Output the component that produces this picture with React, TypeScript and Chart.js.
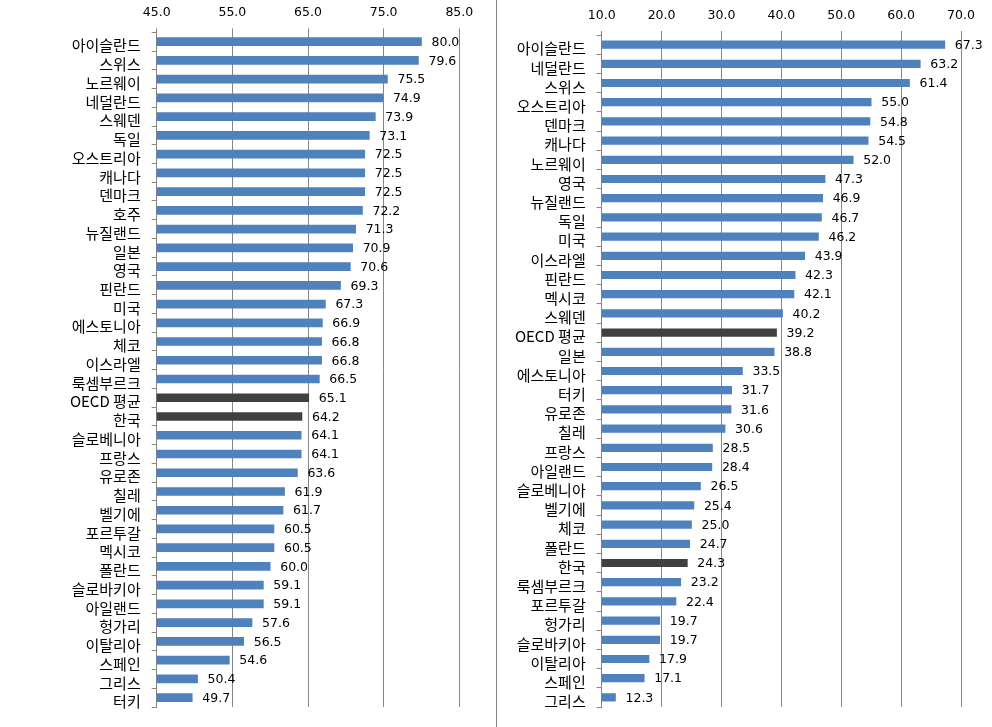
import React, { useEffect, useRef } from "react";
import { Chart, registerables } from "chart.js";

Chart.register(...registerables);

const leftCategories = [
  "아이슬란드", "스위스", "노르웨이", "네덜란드", "스웨덴", "독일", "오스트리아", "캐나다", "덴마크", "호주",
  "뉴질랜드", "일본", "영국", "핀란드", "미국", "에스토니아", "체코", "이스라엘", "룩셈부르크", "OECD 평균",
  "한국", "슬로베니아", "프랑스", "유로존", "칠레", "벨기에", "포르투갈", "멕시코", "폴란드", "슬로바키아",
  "아일랜드", "헝가리", "이탈리아", "스페인", "그리스", "터키",
];
const leftValues = [
  80.0, 79.6, 75.5, 74.9, 73.9, 73.1, 72.5, 72.5, 72.5, 72.2,
  71.3, 70.9, 70.6, 69.3, 67.3, 66.9, 66.8, 66.8, 66.5, 65.1,
  64.2, 64.1, 64.1, 63.6, 61.9, 61.7, 60.5, 60.5, 60.0, 59.1,
  59.1, 57.6, 56.5, 54.6, 50.4, 49.7,
];
const leftHighlight = ["OECD 평균", "한국"];

const rightCategories = [
  "아이슬란드", "네덜란드", "스위스", "오스트리아", "덴마크", "캐나다", "노르웨이", "영국", "뉴질랜드", "독일",
  "미국", "이스라엘", "핀란드", "멕시코", "스웨덴", "OECD 평균", "일본", "에스토니아", "터키", "유로존",
  "칠레", "프랑스", "아일랜드", "슬로베니아", "벨기에", "체코", "폴란드", "한국", "룩셈부르크", "포르투갈",
  "헝가리", "슬로바키아", "이탈리아", "스페인", "그리스",
];
const rightValues = [
  67.3, 63.2, 61.4, 55.0, 54.8, 54.5, 52.0, 47.3, 46.9, 46.7,
  46.2, 43.9, 42.3, 42.1, 40.2, 39.2, 38.8, 33.5, 31.7, 31.6,
  30.6, 28.5, 28.4, 26.5, 25.4, 25.0, 24.7, 24.3, 23.2, 22.4,
  19.7, 19.7, 17.9, 17.1, 12.3,
];
const rightHighlight = ["OECD 평균", "한국"];

const leftTicks = { min: 45, max: 85, step: 10 };
const rightTicks = { min: 10, max: 70, step: 10 };

const BLUE = "#4F81BD";
const DARK = "#404040";
const GRID = "#868686";
const NUM_FONT = '"DejaVu Sans", sans-serif';
const KR_FONT = '"Noto Sans CJK KR", "Noto Sans", sans-serif';

const valueLabels = {
  id: "valueLabels",
  afterDatasetsDraw(chart: any) {
    const ctx = chart.ctx;
    const meta = chart.getDatasetMeta(0);
    const data = chart.data.datasets[0].data as number[];
    ctx.save();
    ctx.font = `12.5px ${NUM_FONT}`;
    ctx.fillStyle = "#000";
    ctx.textAlign = "left";
    ctx.textBaseline = "middle";
    meta.data.forEach((el: any, i: number) => {
      ctx.fillText(data[i].toFixed(1), el.x + 10, el.y + 1);
    });
    ctx.restore();
  },
};

type PanelProps = {
  categories: string[];
  values: number[];
  highlight: string[];
  range: { min: number; max: number; step: number };
  width: number;
  height: number;
  yAxisWidth: number;
  xAxisHeight: number;
  rightPad: number;
  bottomPad: number;
  barThickness: number;
};

function Panel(p: PanelProps) {
  const ref = useRef<HTMLCanvasElement>(null);
  useEffect(() => {
    if (!ref.current) return;
    const chart = new Chart(ref.current, {
      type: "bar",
      data: {
        labels: p.categories,
        datasets: [
          {
            data: p.values,
            backgroundColor: p.categories.map((c) => (p.highlight.includes(c) ? DARK : BLUE)),
            barThickness: p.barThickness,
          },
        ],
      },
      options: {
        indexAxis: "y",
        responsive: false,
        animation: false,
        devicePixelRatio: 1,
        layout: { padding: { left: 0, top: 0, right: p.rightPad, bottom: p.bottomPad } },
        plugins: { legend: { display: false }, tooltip: { enabled: false } },
        scales: {
          x: {
            position: "top",
            min: p.range.min,
            max: p.range.max,
            afterFit: (s: any) => {
              s.height = p.xAxisHeight;
            },
            ticks: {
              stepSize: p.range.step,
              callback: (v: any) => Number(v).toFixed(1),
              font: { family: NUM_FONT, size: 12.5 },
              color: "#000",
              padding: 8,
              maxRotation: 0,
            },
            grid: { color: GRID, lineWidth: 1, drawTicks: true, tickLength: 4 },
            border: { display: false },
          },
          y: {
            afterFit: (s: any) => {
              s.width = p.yAxisWidth;
            },
            ticks: {
              font: { family: KR_FONT, size: 15 },
              color: "#000",
              padding: 11,
              labelOffset: 4,
              autoSkip: false,
            },
            grid: { drawOnChartArea: false, drawTicks: true, tickLength: 5, color: GRID, offset: true },
            border: { display: true, color: GRID, width: 1 },
          },
        },
      },
      plugins: [valueLabels],
    });
    return () => chart.destroy();
  }, []);
  return (
    <canvas
      ref={ref}
      width={p.width}
      height={p.height}
      style={{ width: p.width, height: p.height, display: "block" }}
    />
  );
}

export default function App() {
  return (
    <div
      style={{
        position: "absolute",
        left: 0,
        top: 0,
        width: 992,
        height: 727,
        background: "#fff",
        overflow: "hidden",
      }}
    >
      <div style={{ position: "absolute", left: 0, top: 0 }}>
        <Panel
          categories={leftCategories}
          values={leftValues}
          highlight={leftHighlight}
          range={leftTicks}
          width={490}
          height={727}
          yAxisWidth={156.7}
          xAxisHeight={32.3}
          rightPad={30.7}
          bottomPad={16}
          barThickness={8}
        />
      </div>
      <div
        style={{
          position: "absolute",
          left: 496,
          top: 0,
          width: 1,
          height: 727,
          background: GRID,
        }}
      />
      <div style={{ position: "absolute", left: 498, top: 0 }}>
        <Panel
          categories={rightCategories}
          values={rightValues}
          highlight={rightHighlight}
          range={rightTicks}
          width={494}
          height={727}
          yAxisWidth={103.7}
          xAxisHeight={35}
          rightPad={31}
          bottomPad={16}
          barThickness={7.5}
        />
      </div>
    </div>
  );
}
